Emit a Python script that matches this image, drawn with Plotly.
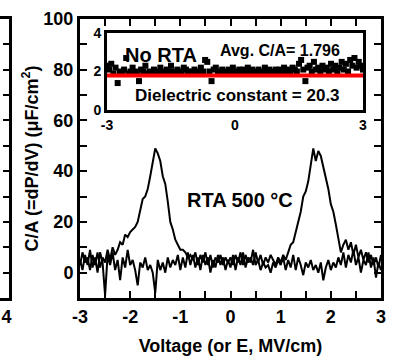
import numpy as np
import plotly.graph_objects as go

# Voltage sweep (V or MV/cm), step 0.05 from -3 to 3
voltage = np.round(np.arange(-3.0, 3.0001, 0.05), 2)

# Main panel: C/A (=dP/dV) in uF/cm^2
ca_rta500 = [3, 8, 4, 6, 1, 7, 3, 8, 2, 6, 4, 9, 5, 10,
             7, 9, 12, 11, 15, 14, 16, 17, 18, 20, 24, 29, 30, 33, 38, 44,
             49, 47, 44, 38, 35, 28, 20, 17, 13, 11, 9, 9, 8, 6, 7,
             5, 8, 3, 7, 4, 8, 3, 7, 2, 6, 4, 7, 3, 6, 4, 6, 3, 7, 4, 8,
             3, 7, 4, 6, 3, 8, 4, 7, 3, 6, 4, 7, 5, 3, 6, 4, 7, 5,
             8, 11, 12, 16, 21, 24, 30, 32, 36, 43, 49, 44, 48, 46, 42, 37,
             33, 27, 24, 19, 14, 8, 11, 13, 9, 12, 7, 11, 6, 9, 5, 8, 4, 7, 3, 6, 2, 7]

ca_no_rta = [5, 1, 7, 3, 9, 2, 6, 0, 8, 4, -9, 7, 3, 8, 1, 5, -3, 6, 2, 9,
             3, 5, 1, -5, 4, 2, 6, 1, 3, 0, -8, 5, 1, 4, 0, 6, 2, 5, 3, 7,
             1, 6, 2, 8, 3, 7, 2, 6, 1, 7, 3, 6, 0, 5, 2, 7, 3, 6, 1, 5,
             2, 7, 1, 6, 3, 8, 2, 6, 4, 9, 3, 5, 1, 4, 2, 3, 0, 4, 2, 5,
             3, 6, 1, 5, 2, 7, 1, 6, 3, -1, 4, 2, 5, 1, 3, 0, 4, -3, 2, 5,
             1, 4, 2, 6, 3, 8, 2, 7, 4, 9, 3, 6, 0, 5, 3, 8, 2, 6, -2, 4, 1]

# Inset: No RTA, C/A in uF/cm^2
inset_ca = [2.3, 2.1, 2.4, 1.9, 2.2, 1.4, 2.0, 1.9, 2.1, 2.7, 1.9, 2.0, 2.2, 1.9, 2.0, 1.5, 2.1, 2.0, 2.3, 1.9,
            2.0, 1.9, 2.1, 2.0, 1.9, 2.2, 2.0, 1.9, 2.1, 2.0, 2.3, 2.0, 1.9, 2.1, 2.0, 1.9, 2.2, 2.1, 2.0, 1.9,
            2.0, 2.1, 2.0, 1.9, 2.2, 2.0, 2.6, 2.5, 2.0, 1.5, 2.1, 2.2, 1.9, 2.0, 2.1, 1.9, 2.0, 2.1, 2.0, 2.2,
            1.9, 2.0, 2.1, 2.0, 2.1, 1.9, 2.2, 2.0, 2.1, 1.9, 2.0, 2.1, 2.0, 1.9, 2.2, 2.0, 2.1, 1.9, 2.0, 2.1,
            2.0, 2.1, 1.9, 2.2, 2.0, 2.1, 2.0, 2.2, 2.1, 2.0, 2.4, 2.6, 2.1, 1.5, 2.2, 2.3, 2.0, 2.5, 2.1, 2.2,
            2.0, 2.3, 2.1, 2.2, 2.0, 2.4, 2.1, 2.3, 2.0, 2.2, 2.5, 2.1, 2.4, 2.0, 2.6, 2.3, 2.7, 2.2, 2.5, 2.3, 2.1]
avg_ca = 1.796
avg_line_x = [-3, 3]

x_ticks = [-3, -2.5, -2, -1.5, -1, -0.5, 0, 0.5, 1, 1.5, 2, 2.5, 3]
x_tick_labels = ["-3", "", "-2", "", "-1", "", "0", "", "1", "", "2", "", "3"]
y_ticks = [-10, 0, 10, 20, 30, 40, 50, 60, 70, 80, 90, 100]
y_tick_labels = ["", "0", "", "20", "", "40", "", "60", "", "80", "", "100"]
inset_x_ticks = [-3, 0, 3]
inset_y_ticks = [0, 2, 4]
left_panel_tick = [4]


def bold(items):
    return ["<b>%s</b>" % s if s else "" for s in items]


W, H = 402, 360
ML, MR, MT, MB = 0, 0, 19, 62
PH = H - MT - MB


def px_x(a, b):
    return [a / W, b / W]


def px_y(top, bottom):
    return [(H - MB - bottom) / PH, (H - MB - top) / PH]


FONT = "Liberation Sans, Arial, sans-serif"

fig = go.Figure()
fig.add_trace(go.Scatter(x=voltage, y=ca_no_rta, mode="lines",
                         line=dict(color="black", width=2), xaxis="x", yaxis="y"))
fig.add_trace(go.Scatter(x=voltage, y=ca_rta500, mode="lines",
                         line=dict(color="black", width=2), xaxis="x", yaxis="y"))
fig.add_trace(go.Scatter(x=voltage, y=inset_ca, mode="markers",
                         marker=dict(symbol="square", size=6, color="black"),
                         xaxis="x2", yaxis="y2"))
fig.add_trace(go.Scatter(x=avg_line_x, y=[avg_ca, avg_ca], mode="lines",
                         line=dict(color="red", width=4), xaxis="x2", yaxis="y2"))
fig.add_trace(go.Scatter(x=[4], y=[0], mode="markers", marker=dict(opacity=0),
                         xaxis="x3", yaxis="y3", hoverinfo="skip"))

axis_common = dict(showline=True, linecolor="black", linewidth=3, showgrid=False,
                   zeroline=False, color="black", automargin=False)

fig.update_layout(
    width=W, height=H,
    margin=dict(l=ML, r=MR, t=MT, b=MB, autoexpand=False),
    paper_bgcolor="white", plot_bgcolor="white",
    showlegend=False,
    font=dict(family=FONT, color="black", size=18),
    xaxis=dict(**axis_common, domain=px_x(80, 381), range=[-3, 3],
               tickmode="array", tickvals=x_ticks, ticktext=bold(x_tick_labels),
               ticks="inside", ticklen=7, tickwidth=2, mirror="allticks",
               tickfont=dict(size=18, family=FONT),
               title=dict(text="<b>Voltage (or E, MV/cm)</b>", standoff=14,
                          font=dict(size=18, family=FONT)),
               anchor="y"),
    yaxis=dict(**axis_common, domain=[0, 1], range=[-10, 100],
               tickmode="array", tickvals=y_ticks, ticktext=bold(y_tick_labels),
               ticks="inside", ticklen=7, tickwidth=2, mirror="allticks",
               tickfont=dict(size=18, family=FONT),
               title=dict(text="<b>C/A (=dP/dV) (μF/cm<sup>2</sup>)</b>", standoff=1,
                          font=dict(size=18, family=FONT)),
               anchor="x"),
    xaxis2=dict(**axis_common, domain=px_x(107, 363), range=[-3, 3],
                tickmode="array", tickvals=inset_x_ticks,
                ticktext=bold([str(v) for v in inset_x_ticks]), ticks="", mirror=True,
                tickfont=dict(size=14, family=FONT), anchor="y2"),
    yaxis2=dict(**axis_common, domain=px_y(33, 110), range=[0, 4],
                tickmode="array", tickvals=inset_y_ticks,
                ticktext=bold([str(v) for v in inset_y_ticks]), ticks="", mirror=True,
                tickfont=dict(size=14, family=FONT), anchor="x2"),
    xaxis3=dict(**axis_common, domain=px_x(0, 9), range=[3.6, 4.15],
                tickmode="array", tickvals=left_panel_tick,
                ticktext=bold([str(v) for v in left_panel_tick]), ticks="", mirror=True,
                tickfont=dict(size=18, family=FONT), anchor="y3"),
    yaxis3=dict(**axis_common, domain=[0, 1], range=[-10, 100], side="right",
                tickmode="linear", dtick=10, tick0=0, ticks="inside", ticklen=6,
                tickwidth=2, showticklabels=False, anchor="x3"),
    annotations=[
        dict(text="<b>No RTA</b>", x=-1.73, y=2.86, xref="x2", yref="y2", showarrow=False,
             font=dict(size=20, family=FONT)),
        dict(text="<b>Avg. C/A= 1.796</b>", x=1.05, y=3.08, xref="x2", yref="y2",
             showarrow=False, font=dict(size=16, family=FONT)),
        dict(text="<b>Dielectric constant = 20.3</b>", x=0.05, y=0.73, xref="x2", yref="y2",
             showarrow=False, font=dict(size=17, family=FONT)),
        dict(text="<b>RTA 500 °C</b>", x=0.18, y=28.6, xref="x", yref="y", showarrow=False,
             font=dict(size=20, family=FONT)),
    ],
)

fig.write_html("out.html")
